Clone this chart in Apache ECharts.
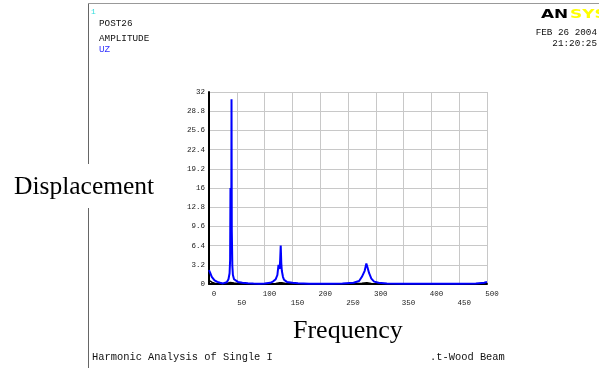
<!DOCTYPE html>
<html><head><meta charset="utf-8">
<script src="https://cdn.jsdelivr.net/npm/echarts@6/dist/echarts.min.js"></script>
<style>html,body{margin:0;padding:0;background:#fff}#c{width:599px;height:368px}</style>
</head><body><div id="c"></div>
<script>
// Frequency samples (Hz) and UZ amplitude
const freq = [0,2,5,10,15,20,25,28,32,35,37,38,38.6,38.9,39.2,39.5,39.8,40.1,40.5,41,42,43,45,48,52,60,70,80,90,100,110,115,120,123,125,127,128,129,130,131,133,135,140,150,160,180,200,220,240,260,270,275,280,283,285,288,292,297,305,320,350,400,450,480,495,500];
const uz   = [2.3,1.9,1.2,0.6,0.35,0.2,0.1,0.05,0.3,0.8,1.8,4,16,9,16,8.7,15.5,10,30.8,9,3,1.5,0.8,0.5,0.35,0.2,0.12,0.08,0.05,0.08,0.2,0.4,0.8,1.5,3.2,2.5,4,6.4,3.5,2.2,1.2,0.7,0.35,0.2,0.12,0.06,0.04,0.05,0.08,0.2,0.5,1.2,2.2,3.4,2.8,1.8,0.9,0.4,0.2,0.1,0.06,0.05,0.05,0.1,0.2,0.35];
// faint black companion curve near the baseline
const freqB = [0,5,10,15,25,32,38,41,45,55,70,110,120,127,131,138,150,260,275,284,292,305,500];
const ampB  = [0.6,0.3,0.12,0.05,0.02,0.08,0.25,0.3,0.15,0.05,0.02,0.03,0.1,0.2,0.2,0.08,0.02,0.03,0.12,0.2,0.1,0.03,0.02];
const xTicks = {min:0, max:500, step:50};
const yTicks = {min:0, max:32, step:3.2};

const ch = echarts.init(document.getElementById('c'));
const mono = '"Liberation Mono", "DejaVu Sans Mono", monospace';
const serif = '"Liberation Serif", "DejaVu Serif", serif';
ch.setOption({
  animation:false,
  grid:{left:209, top:92, width:278, height:192},
  xAxis:{type:'value', min:xTicks.min, max:xTicks.max, interval:xTicks.step,
    axisLine:{show:true, onZero:false, lineStyle:{color:'#000', width:2}},
    axisTick:{show:false},
    splitLine:{show:true, lineStyle:{color:'#c8c8c8', width:1}},
    axisLabel:{color:'#222', fontFamily:mono, fontSize:7.5, margin:6, lineHeight:9,
      padding:[0,0,0,10], showMaxLabel:true, showMinLabel:true,
      formatter:(v,i)=> (i%2 ? '\n'+v : ''+v)}},
  yAxis:{type:'value', min:yTicks.min, max:yTicks.max, interval:yTicks.step,
    axisLine:{show:true, onZero:false, lineStyle:{color:'#000', width:2}},
    axisTick:{show:false},
    splitLine:{show:true, lineStyle:{color:'#c8c8c8', width:1}},
    axisLabel:{color:'#222', fontFamily:mono, fontSize:7.5, margin:4,
      formatter:v=> ''+(+v.toFixed(1))}},
  series:[
    {type:'line', data:freqB.map((f,i)=>[f,ampB[i]]), symbol:'none', z:2,
      lineStyle:{color:'#000', width:1.5}},
    {type:'line', data:freq.map((f,i)=>[f,uz[i]]), symbol:'none', z:3,
      lineStyle:{color:'#0000ff', width:2}}
  ],
  graphic:[
    {type:'line', shape:{x1:88.5,y1:3.5,x2:599,y2:3.5}, style:{stroke:'#999', lineWidth:1}},
    {type:'line', shape:{x1:88.5,y1:3.5,x2:88.5,y2:368}, style:{stroke:'#666', lineWidth:1}},
    {type:'text', left:91, top:8, style:{text:'1', fill:'#33dddd', font:'8px '+mono}},
    {type:'text', left:99, top:19, style:{text:'POST26', fill:'#111', font:'9.3px '+mono}},
    {type:'text', left:99, top:34, style:{text:'AMPLITUDE', fill:'#111', font:'9.3px '+mono}},
    {type:'text', left:99, top:45, style:{text:'UZ', fill:'#3333ff', font:'9.3px '+mono}},
    {type:'text', x:541, y:15, scaleX:1.3, style:{text:'AN', fill:'#000', font:'900 13px "DejaVu Sans", sans-serif', textVerticalAlign:'middle'}},
    {type:'text', x:570, y:15, scaleX:1.3, style:{text:'SYS', fill:'#ffff00', font:'900 13px "DejaVu Sans", sans-serif', textVerticalAlign:'middle'}},
    {type:'text', right:2, top:28, style:{text:'FEB 26 2004', fill:'#111', font:'9.3px '+mono, textAlign:'right'}},
    {type:'text', right:2, top:39, style:{text:'21:20:25', fill:'#111', font:'9.3px '+mono, textAlign:'right'}},
    {type:'rect', shape:{x:10,y:164,width:152,height:44}, style:{fill:'#fff'}},
    {type:'text', x:14, y:187, style:{text:'Displacement', fill:'#000', font:'25.5px '+serif, textVerticalAlign:'middle'}},
    {type:'text', x:293, y:331, style:{text:'Frequency', fill:'#000', font:'26px '+serif, textVerticalAlign:'middle'}},
    {type:'text', x:92, y:357, style:{text:'Harmonic Analysis of Single I', fill:'#111', font:'10.4px '+mono, textVerticalAlign:'middle'}},
    {type:'text', x:430, y:357, style:{text:'.t-Wood Beam', fill:'#111', font:'10.4px '+mono, textVerticalAlign:'middle'}}
  ]
});
</script></body></html>
